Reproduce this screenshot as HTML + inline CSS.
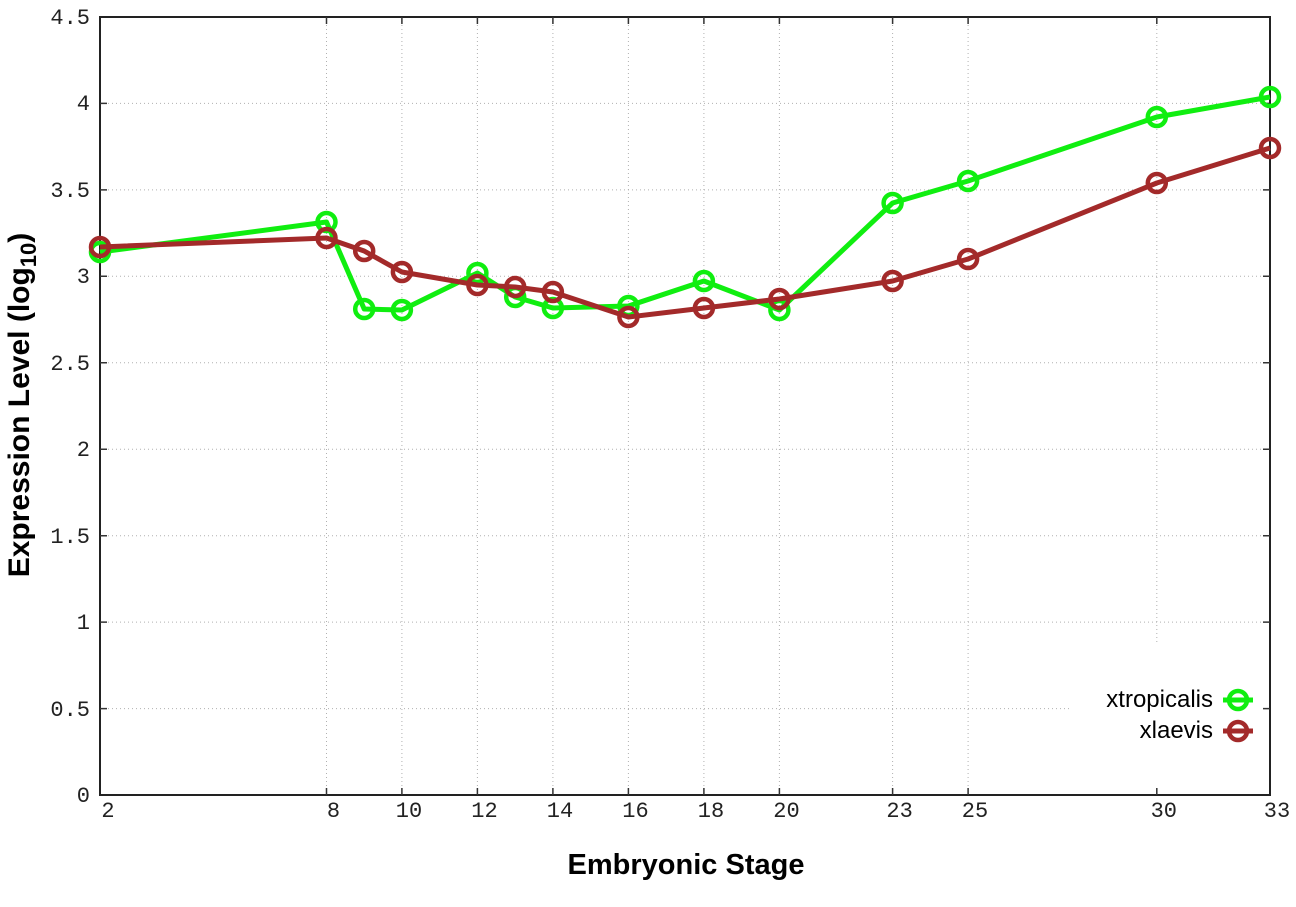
<!DOCTYPE html>
<html><head><meta charset="utf-8"><style>
html,body{margin:0;padding:0;background:#fff;}
svg{display:block;}
.tk{font-family:"Liberation Mono","DejaVu Sans Mono",monospace;font-size:22px;fill:#222;}
.grid{stroke:#b0b0b0;stroke-width:1;stroke-dasharray:1,3;}
</style></head><body>
<svg width="1296" height="907" viewBox="0 0 1296 907" xmlns="http://www.w3.org/2000/svg">
<rect width="1296" height="907" fill="#fff"/>
<g class="grid">
<line x1="100" x2="1270" y1="708.6" y2="708.6"/>
<line x1="100" x2="1270" y1="622.1" y2="622.1"/>
<line x1="100" x2="1270" y1="535.7" y2="535.7"/>
<line x1="100" x2="1270" y1="449.2" y2="449.2"/>
<line x1="100" x2="1270" y1="362.8" y2="362.8"/>
<line x1="100" x2="1270" y1="276.3" y2="276.3"/>
<line x1="100" x2="1270" y1="189.9" y2="189.9"/>
<line x1="100" x2="1270" y1="103.4" y2="103.4"/>
<line x1="326.5" x2="326.5" y1="17" y2="795"/>
<line x1="401.9" x2="401.9" y1="17" y2="795"/>
<line x1="477.4" x2="477.4" y1="17" y2="795"/>
<line x1="552.9" x2="552.9" y1="17" y2="795"/>
<line x1="628.4" x2="628.4" y1="17" y2="795"/>
<line x1="703.9" x2="703.9" y1="17" y2="795"/>
<line x1="779.4" x2="779.4" y1="17" y2="795"/>
<line x1="892.6" x2="892.6" y1="17" y2="795"/>
<line x1="968.1" x2="968.1" y1="17" y2="795"/>
<line x1="1156.8" x2="1156.8" y1="17" y2="795"/>
</g>
<rect x="1071" y="642" width="199" height="153" fill="#fff"/>
<rect x="100" y="17" width="1170" height="778" fill="none" stroke="#222" stroke-width="2"/>
<g stroke="#333" stroke-width="1.5">
<path d="M100 708.6h7M100 622.1h7M100 535.7h7M100 449.2h7M100 362.8h7M100 276.3h7M100 189.9h7M100 103.4h7"/>
<path d="M1270 708.6h-7M1270 622.1h-7M1270 535.7h-7M1270 449.2h-7M1270 362.8h-7M1270 276.3h-7M1270 189.9h-7M1270 103.4h-7"/>
<path d="M326.5 795v-7M401.9 795v-7M477.4 795v-7M552.9 795v-7M628.4 795v-7M703.9 795v-7M779.4 795v-7M892.6 795v-7M968.1 795v-7M1156.8 795v-7"/>
<path d="M326.5 17v7M401.9 17v7M477.4 17v7M552.9 17v7M628.4 17v7M703.9 17v7M779.4 17v7M892.6 17v7M968.1 17v7M1156.8 17v7"/>
</g>
<g class="tk" text-anchor="end">
<text x="90" y="802">0</text>
<text x="90" y="716">0.5</text>
<text x="90" y="629">1</text>
<text x="90" y="543">1.5</text>
<text x="90" y="456">2</text>
<text x="90" y="370">2.5</text>
<text x="90" y="283">3</text>
<text x="90" y="197">3.5</text>
<text x="90" y="110">4</text>
<text x="90" y="24">4.5</text>
</g>
<g class="tk" text-anchor="middle">
<text x="108" y="817">2</text>
<text x="333.5" y="817">8</text>
<text x="409" y="817">10</text>
<text x="484.5" y="817">12</text>
<text x="560" y="817">14</text>
<text x="635.5" y="817">16</text>
<text x="711" y="817">18</text>
<text x="786.5" y="817">20</text>
<text x="899.6" y="817">23</text>
<text x="975" y="817">25</text>
<text x="1163.8" y="817">30</text>
<text x="1277" y="817">33</text>
</g>
<text x="686" y="874" text-anchor="middle" font-family="Liberation Sans, sans-serif" font-weight="bold" font-size="29" fill="#000">Embryonic Stage</text>
<text transform="translate(29,405) rotate(-90)" text-anchor="middle" font-family="Liberation Sans, sans-serif" font-weight="bold" font-size="30" fill="#000">Expression Level (log<tspan font-size="22" dy="7">10</tspan><tspan dy="-7">)</tspan></text>
<g fill="none" stroke="#10ee10" stroke-width="5" stroke-linejoin="round">
<polyline points="100,252 326.5,222 364.2,309 401.9,310 477.4,273 515.2,297 552.9,308 628.4,306 703.9,281 779.4,310 892.6,203 968.1,181 1156.8,117 1270,97"/>
<g stroke-width="4.5">
<circle cx="100" cy="252" r="9"/><circle cx="326.5" cy="222" r="9"/><circle cx="364.2" cy="309" r="9"/><circle cx="401.9" cy="310" r="9"/><circle cx="477.4" cy="273" r="9"/><circle cx="515.2" cy="297" r="9"/><circle cx="552.9" cy="308" r="9"/><circle cx="628.4" cy="306" r="9"/><circle cx="703.9" cy="281" r="9"/><circle cx="779.4" cy="310" r="9"/><circle cx="892.6" cy="203" r="9"/><circle cx="968.1" cy="181" r="9"/><circle cx="1156.8" cy="117" r="9"/><circle cx="1270" cy="97" r="9"/>
</g>
</g>
<g fill="none" stroke="#a32a2a" stroke-width="5" stroke-linejoin="round">
<polyline points="100,247 326.5,238 364.2,251 401.9,272 477.4,285 515.2,287 552.9,292 628.4,317 703.9,308 779.4,299 892.6,281 968.1,259 1156.8,183 1270,148"/>
<g stroke-width="4.5">
<circle cx="100" cy="247" r="9"/><circle cx="326.5" cy="238" r="9"/><circle cx="364.2" cy="251" r="9"/><circle cx="401.9" cy="272" r="9"/><circle cx="477.4" cy="285" r="9"/><circle cx="515.2" cy="287" r="9"/><circle cx="552.9" cy="292" r="9"/><circle cx="628.4" cy="317" r="9"/><circle cx="703.9" cy="308" r="9"/><circle cx="779.4" cy="299" r="9"/><circle cx="892.6" cy="281" r="9"/><circle cx="968.1" cy="259" r="9"/><circle cx="1156.8" cy="183" r="9"/><circle cx="1270" cy="148" r="9"/>
</g>
</g>
<g font-family="Liberation Sans, sans-serif" font-size="24" fill="#000" text-anchor="end">
<text x="1213" y="707">xtropicalis</text>
<text x="1213" y="738">xlaevis</text>
</g>
<g fill="none" stroke-width="5">
<line x1="1223" x2="1253" y1="700" y2="700" stroke="#10ee10"/>
<circle cx="1238" cy="700" r="9" stroke="#10ee10" stroke-width="4.5"/>
<line x1="1223" x2="1253" y1="731" y2="731" stroke="#a32a2a"/>
<circle cx="1238" cy="731" r="9" stroke="#a32a2a" stroke-width="4.5"/>
</g>
</svg>
</body></html>
